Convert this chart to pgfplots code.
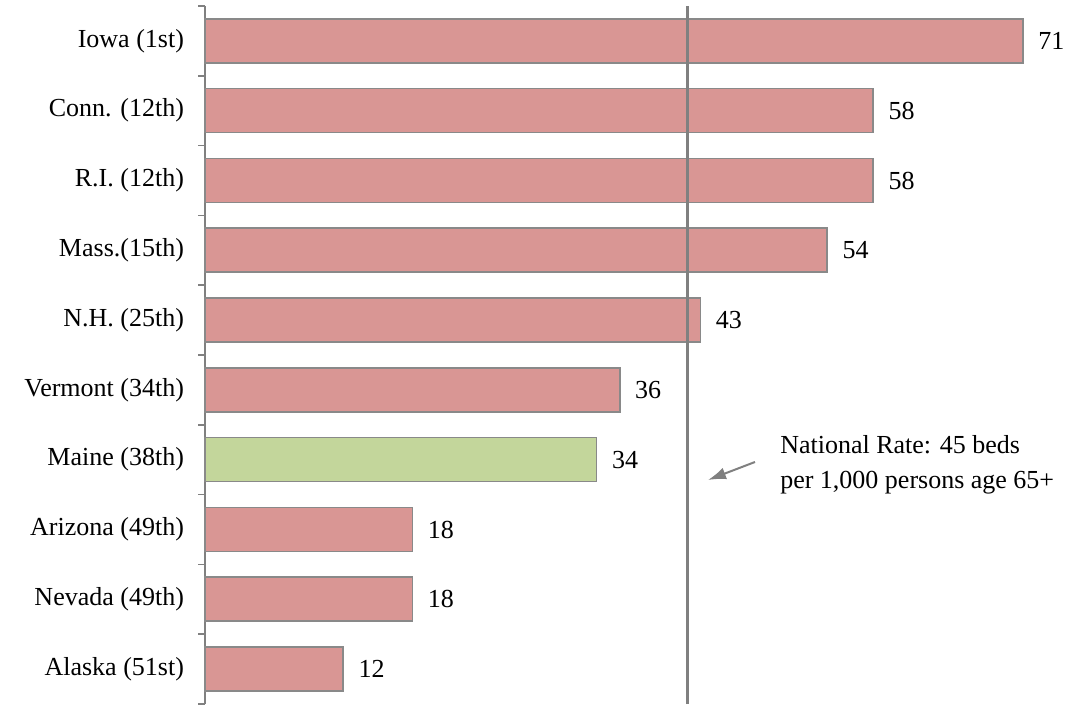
\documentclass[border=0pt]{standalone}
\usepackage{fontspec}
\setmainfont{Liberation Serif}
\usepackage{pgfplots}
\pgfplotsset{compat=1.18}
\usetikzlibrary{arrows.meta}
\definecolor{barpink}{RGB}{217,150,148}
\definecolor{bargreen}{RGB}{195,214,155}
\definecolor{edgegray}{RGB}{137,137,137}
\definecolor{linegray}{RGB}{128,128,128}
\begin{document}
\begin{tikzpicture}
\begin{axis}[name=ax, scale only axis, width=430.5pt, height=349pt,
 xmin=0, xmax=74.74, ymin=-0.5, ymax=9.5,
 axis x line=none, axis y line*=left,
 axis line style={draw=linegray, line width=0.8pt, -},
 ytick={0,1,2,3,4,5,6,7,8,9},
 yticklabels={Alaska (51st), Nevada (49th), Arizona (49th), Maine (38th), Vermont (34th), N.H. (25th), Mass.(15th), R.I. (12th), Conn. (12th), Iowa (1st)},
 major tick length=0pt,
 extra y ticks={-0.5,0.5,1.5,2.5,3.5,4.5,5.5,6.5,7.5,8.5,9.5},
 extra y tick labels={},
 extra y tick style={major tick length=3.5pt, tick align=outside, tick style={draw=linegray, line width=0.8pt}},
 yticklabel style={font=\fontsize{13}{15}\selectfont, xshift=-7pt},
 /pgf/number format/assume math mode=true,
 clip=false,
]
\addplot[xbar, bar width=22pt, bar shift=0pt, fill=barpink, draw=edgegray, line width=0.8pt,
  point meta=x, nodes near coords, nodes near coords align=horizontal,
  every node near coord/.append style={font=\fontsize{13}{15}\selectfont, xshift=4pt, text=black}]
  coordinates {(12,0) (18,1) (18,2) (36,4) (43,5) (54,6) (58,7) (58,8) (71,9)};
\addplot[xbar, bar width=22pt, bar shift=0pt, fill=bargreen, draw=edgegray, line width=0.8pt,
  point meta=x, nodes near coords, nodes near coords align=horizontal,
  every node near coord/.append style={font=\fontsize{13}{15}\selectfont, xshift=4pt, text=black}]
  coordinates {(34,3)};
\addplot[linegray, line width=1.75pt, forget plot] coordinates {(41.9,-0.5) (41.9,9.5)};
\draw[linegray, line width=1pt, -{Latex[length=9pt,width=6pt]}] (axis cs:47.74,2.967) -- (axis cs:43.66,2.709);
\node[anchor=west, inner sep=0pt, align=left, font=\fontsize{13}{17.5}\selectfont] at (axis cs:49.9,2.92) {National Rate: 45 beds\\per 1,000 persons age 65+};
\end{axis}
\pgfresetboundingbox
\path ([xshift=-102.5pt]ax.south west) rectangle ([yshift=3pt]ax.north east);
\end{tikzpicture}
\end{document}
